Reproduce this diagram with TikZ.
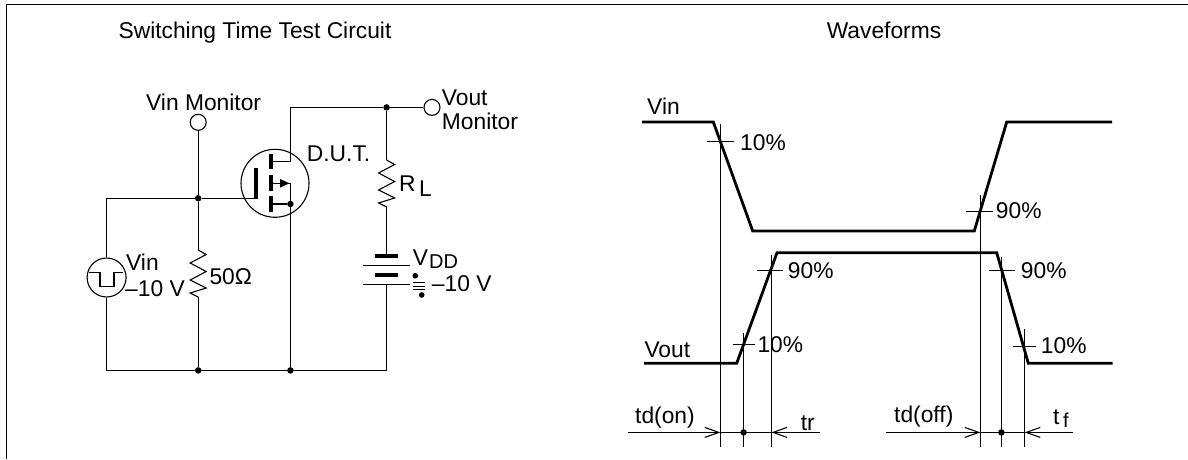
\documentclass[tikz,border=0pt]{standalone}
\usepackage{fontspec}
\setmainfont{Liberation Sans}
\usetikzlibrary{arrows.meta}
\tikzset{
  wire/.style={line width=1.1pt},
  wave/.style={line width=2.8pt, line join=miter},
  bar/.style={line width=4pt},
  terminal/.style={circle, draw, line width=1.1pt, fill=white, inner sep=0pt, minimum size=16pt},
  jdot/.style={circle, fill=black, inner sep=0pt, minimum size=6.5pt},
  lbl/.style={anchor=base west, inner sep=0pt, font=\fontsize{22.8}{24}\selectfont},
  sublbl/.style={anchor=base west, inner sep=0pt, font=\fontsize{20}{22}\selectfont},
  resistor/.pic={
    \draw[wire] (0,0) -- (8,4.5) -- (-8,13) -- (8,21.5) -- (-8,30) -- (8,38) -- (-8,43) -- (0,47);
  }
}
\begin{document}
\begin{tikzpicture}[x=1pt, y=-1pt]
        \useasboundingbox (0,0) rectangle (1188,459);

        % Frame, open at the bottom and on the right
        \draw[line width=1.3pt] (6.5,459) -- (6.5,4.5) -- (1188,4.5);

        % Titles
        \node[lbl, anchor=base] (titlecircuit) at (255,38) {Switching Time Test Circuit};
        \node[lbl, anchor=base] (titlewaves) at (884,38) {Waveforms};

        % Junctions
        \node[jdot] (jgate) at (198.2,198.3) {};
        \node[jdot] (jdrain) at (386.6,107.4) {};
        \node[jdot] (jsource) at (290.4,204) {};
        \node[jdot] (jbotr) at (198.2,370.4) {};
        \node[jdot] (jbots) at (290.4,370.4) {};

        % Terminals and the two round symbols
        \node[terminal] (vinmon) at (198.2,122.3) {};
        \node[terminal] (voutmon) at (432,107.4) {};
        \node[terminal, minimum size=39pt] (pulse) at (106.6,277.5) {};
        \node[terminal, minimum size=68pt, fill=none] (dut) at (275,183.3) {};

        % Named corners
        \coordinate (gatein) at (255.7,198.3);
        \coordinate (dch) at (271,161.6);
        \coordinate (dcorner) at (290.4,161.6);
        \coordinate (dtop) at (290.4,107.4);
        \coordinate (bch) at (271,183.3);
        \coordinate (bcorner) at (290.4,183.3);
        \coordinate (sch) at (271,204);
        \coordinate (botleft) at (106.6,370.4);
        \coordinate (botright) at (386.6,370.4);
        \coordinate (ratop) at (198.2,250);
        \coordinate (rabot) at (198.2,297);
        \coordinate (rltop) at (386.6,160);
        \coordinate (rlbot) at (386.6,207);
        \coordinate (battop) at (386.6,255.7);
        \coordinate (batbot) at (386.6,284.4);

        % Wires
        \draw[wire] (vinmon) -- (jgate);
        \draw[wire] (pulse.north) |- (jgate);
        \draw[wire] (jgate) -- (gatein);
        \draw[wire] (jgate) -- (ratop);
        \draw[wire] (rabot) -- (jbotr);
        \draw[wire] (pulse.south) -- (botleft) -- (botright) -- (batbot);
        \draw[wire] (dch) -- (dcorner) -- (dtop) -- (jdrain);
        \draw[wire] (jdrain) -- (voutmon);
        \draw[wire] (jdrain) -- (rltop);
        \draw[wire] (rlbot) -- (battop);
        \draw[wire] (bch) -- (bcorner) -- (jsource);
        \draw[wire] (sch) -- (jsource);
        \draw[wire] (jsource) -- (jbots);

        % Resistors
        \pic at (ratop) {resistor};
        \pic at (rltop) {resistor};

        % Gate and channel bars of the D.U.T.
        \draw[bar] (255.7,168) -- (255.7,199);
        \draw[bar] (271,154) -- (271,169.3);
        \draw[bar] (271,175) -- (271,190.7);
        \draw[bar] (271,196) -- (271,211.7);
        \fill (289.5,183.3) -- (280,179) -- (280,187.6) -- cycle;

        % Pulse inside the source
        \draw[wire] (89,272.4) -- (100,272.4) -- (100,286.4) -- (114,286.4) -- (114,272.4) -- (123,272.4);

        % Battery
        \draw[bar] (375,255.7) -- (398,255.7);
        \draw[wire] (363,265.4) -- (410,265.4);
        \draw[bar] (375,275) -- (398,275);
        \draw[wire] (363,284.4) -- (410,284.4);

        % Small sign beside the battery
        \fill (415.3,275.7) circle (2.8pt);
        \fill (421.7,295) circle (2.8pt);
        \foreach \y in {282.5,286,289.5}
          \draw[line width=1pt] (412.7,\y) -- (425,\y);

        % Labels of the circuit
        \node[lbl] (vinmonlbl) at (146,110.7) {Vin Monitor};
        \node[lbl] (dutlbl) at (306.7,161) {D.U.T.};
        \node[lbl] (voutlbl) at (441.7,105.7) {Vout};
        \node[lbl] (monlbl) at (441.7,129.3) {Monitor};
        \node[lbl] (rlbl) at (399,191.7) {R};
        \node[lbl] (rsub) at (419,196) {L};
        \node[lbl] (vlbl) at (412.7,265) {V};
        \node[sublbl] (vsub) at (429,268.3) {DD};
        \node[lbl] (vddval) at (431.7,291.7) {–10 V};
        \node[lbl] (vinlbl) at (126,270) {Vin};
        \node[lbl] (vinval) at (125,296.7) {–10 V};
        \node[lbl] (ohmlbl) at (209.3,284.3) {50Ω};

        % Waveforms
        \draw[wave] (642,122) -- (713.3,122) -- (752.7,231) -- (974.3,231) -- (1006.7,122) -- (1112,122);
        \draw[wave] (644,363.3) -- (736.7,363.3) -- (777,252.7) -- (996.7,252.7) -- (1028.3,363.3) -- (1112.7,363.3);

        % Time marks: name / x / top of line / y of tick / tick from / tick to
        \foreach \n/\x/\ytop/\ytick/\xa/\xb in {
            a/720.4/124/141.6/706.7/734,
            b/743.6/333/344.6/732.7/755,
            c/771.4/255/270.4/757/783,
            d/980.4/195/211.6/966/993.3,
            e/1001.4/256.7/270.4/989.3/1015,
            f/1024.6/329/346.6/1013.3/1036}
        {
          \coordinate (top\n) at (\x,\ytop);
          \coordinate (foot\n) at (\x,446.7);
          \coordinate (dim\n) at (\x,432.4);
          \draw[wire] (top\n) -- (foot\n);
          \draw[wire] (\xa,\ytick) -- (\xb,\ytick);
        }

        % Time spans
        \coordinate (fromon) at (628,432.4);
        \coordinate (fromtr) at (820,432.4);
        \coordinate (fromoff) at (885.7,432.4);
        \coordinate (fromtf) at (1072.7,432.4);
        \node[jdot] (jon) at (dimb) {};
        \node[jdot] (joff) at (dime) {};
        \draw[wire] (dima) -- (dimc);
        \draw[wire] (dimd) -- (dimf);
        \draw[wire, -{Straight Barb[length=14pt, width=10pt]}] (fromon) -- (dima);
        \draw[wire, -{Straight Barb[length=14pt, width=10pt]}] (fromtr) -- (dimc);
        \draw[wire, -{Straight Barb[length=14pt, width=10pt]}] (fromoff) -- (dimd);
        \draw[wire, -{Straight Barb[length=14pt, width=10pt]}] (fromtf) -- (dimf);

        % Labels of the waveforms
        \node[lbl] (wvin) at (647,114) {Vin};
        \node[lbl] (wvout) at (644.3,357.3) {Vout};
        \node[lbl] (pa) at (740,150) {10\%};
        \node[lbl] (pb) at (757.3,352.7) {10\%};
        \node[lbl] (pc) at (787.7,278.3) {90\%};
        \node[lbl] (pd) at (995.7,218.3) {90\%};
        \node[lbl] (pe) at (1020.7,278.3) {90\%};
        \node[lbl] (pf) at (1040.7,353.3) {10\%};
        \node[lbl] (tdon) at (635,423.3) {td(on)};
        \node[lbl] (trlbl) at (800.7,430) {tr};
        \node[lbl] (tdoff) at (894,422.3) {td(off)};
        \node[lbl] (tflbl) at (1053,424) {t};
        \node[sublbl] (tfsub) at (1063,427.7) {f};
      \end{tikzpicture}
\end{document}
